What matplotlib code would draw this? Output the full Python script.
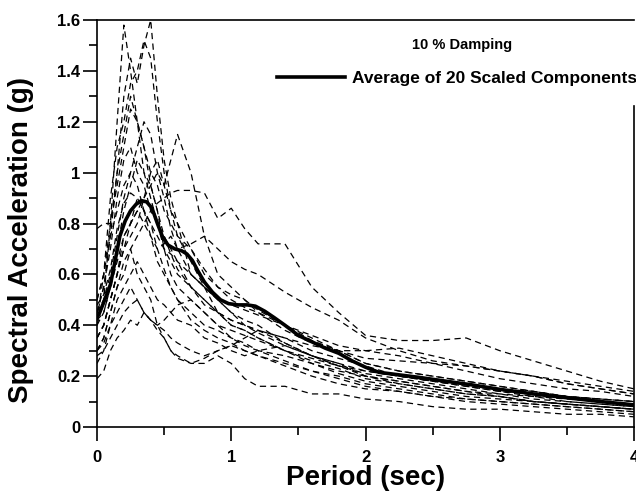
import matplotlib
matplotlib.use("Agg")
import matplotlib.pyplot as plt
from matplotlib.ticker import MultipleLocator

plt.rcParams['font.family'] = ['Liberation Sans', 'DejaVu Sans']

period = [0, 0.05, 0.1, 0.15, 0.2, 0.25, 0.3, 0.35, 0.4, 0.45, 0.5, 0.55, 0.6, 0.7, 0.8, 0.9,
          1.0, 1.1, 1.2, 1.4, 1.6, 1.8, 2.0, 2.25, 2.5, 2.75, 3.0, 3.25, 3.5, 3.75, 4.0]

c01 = [0.45, 0.55, 0.75, 1.00, 1.30, 1.45, 1.35, 1.50, 1.60, 1.30, 1.05, 0.90, 0.80, 0.60, 0.55, 0.50, 0.45, 0.42, 0.40, 0.33, 0.28, 0.24, 0.20, 0.17, 0.15, 0.13, 0.12, 0.10, 0.09, 0.08, 0.07]
c02 = [0.40, 0.50, 0.80, 1.20, 1.58, 1.40, 1.20, 1.00, 0.95, 0.85, 0.70, 0.60, 0.55, 0.50, 0.45, 0.40, 0.35, 0.32, 0.30, 0.26, 0.22, 0.20, 0.17, 0.15, 0.13, 0.11, 0.10, 0.09, 0.08, 0.07, 0.06]
c03 = [0.42, 0.60, 0.90, 1.10, 1.20, 1.35, 1.40, 1.52, 1.45, 1.20, 1.00, 0.85, 0.75, 0.65, 0.55, 0.45, 0.40, 0.38, 0.35, 0.30, 0.26, 0.23, 0.19, 0.17, 0.15, 0.13, 0.12, 0.10, 0.09, 0.08, 0.07]
c04 = [0.35, 0.40, 0.50, 0.60, 0.75, 0.80, 0.85, 0.90, 0.95, 1.00, 0.95, 1.05, 1.15, 1.00, 0.75, 0.60, 0.55, 0.50, 0.45, 0.38, 0.33, 0.30, 0.25, 0.22, 0.20, 0.18, 0.16, 0.14, 0.12, 0.11, 0.10]
c05 = [0.30, 0.35, 0.45, 0.55, 0.60, 0.70, 0.75, 0.80, 0.85, 0.88, 0.90, 0.92, 0.93, 0.93, 0.92, 0.82, 0.86, 0.78, 0.72, 0.72, 0.55, 0.45, 0.36, 0.34, 0.34, 0.35, 0.30, 0.26, 0.22, 0.18, 0.15]
c06 = [0.78, 0.80, 0.80, 0.95, 1.10, 1.25, 1.20, 1.10, 1.00, 0.95, 0.85, 0.80, 0.75, 0.70, 0.62, 0.55, 0.50, 0.47, 0.45, 0.40, 0.35, 0.30, 0.25, 0.22, 0.20, 0.18, 0.16, 0.14, 0.12, 0.11, 0.10]
c07 = [0.19, 0.22, 0.30, 0.35, 0.38, 0.42, 0.40, 0.45, 0.42, 0.38, 0.35, 0.30, 0.27, 0.25, 0.25, 0.28, 0.25, 0.19, 0.16, 0.16, 0.13, 0.13, 0.11, 0.10, 0.08, 0.07, 0.07, 0.06, 0.05, 0.05, 0.04]
c08 = [0.30, 0.35, 0.45, 0.55, 0.65, 0.70, 0.60, 0.55, 0.50, 0.40, 0.35, 0.30, 0.28, 0.25, 0.27, 0.30, 0.32, 0.30, 0.28, 0.25, 0.22, 0.19, 0.16, 0.14, 0.12, 0.10, 0.09, 0.08, 0.07, 0.06, 0.05]
c09 = [0.45, 0.55, 0.70, 0.90, 1.05, 1.10, 1.00, 0.95, 0.85, 0.80, 0.75, 0.70, 0.65, 0.55, 0.48, 0.45, 0.42, 0.40, 0.38, 0.35, 0.30, 0.27, 0.24, 0.20, 0.18, 0.16, 0.14, 0.12, 0.11, 0.10, 0.09]
c10 = [0.50, 0.60, 0.75, 0.85, 0.95, 1.00, 1.10, 1.20, 1.15, 1.00, 0.90, 0.78, 0.70, 0.60, 0.55, 0.50, 0.45, 0.40, 0.37, 0.32, 0.28, 0.25, 0.22, 0.20, 0.18, 0.16, 0.14, 0.13, 0.12, 0.10, 0.09]
c11 = [0.25, 0.30, 0.40, 0.50, 0.55, 0.60, 0.65, 0.60, 0.55, 0.50, 0.48, 0.45, 0.42, 0.40, 0.35, 0.33, 0.30, 0.28, 0.30, 0.32, 0.28, 0.25, 0.20, 0.18, 0.16, 0.14, 0.12, 0.10, 0.09, 0.08, 0.07]
c12 = [0.40, 0.45, 0.55, 0.65, 0.75, 0.80, 0.85, 0.80, 0.75, 0.70, 0.72, 0.75, 0.70, 0.72, 0.75, 0.70, 0.65, 0.62, 0.60, 0.53, 0.47, 0.42, 0.35, 0.30, 0.26, 0.24, 0.22, 0.20, 0.17, 0.15, 0.13]
c13 = [0.35, 0.40, 0.50, 0.60, 0.70, 0.80, 0.90, 0.85, 0.75, 0.65, 0.60, 0.55, 0.50, 0.45, 0.40, 0.38, 0.35, 0.33, 0.30, 0.28, 0.25, 0.22, 0.20, 0.18, 0.16, 0.14, 0.13, 0.12, 0.10, 0.09, 0.08]
c14 = [0.45, 0.50, 0.60, 0.75, 0.90, 1.00, 0.95, 0.85, 0.80, 0.75, 0.70, 0.68, 0.65, 0.60, 0.55, 0.50, 0.48, 0.46, 0.44, 0.40, 0.36, 0.32, 0.30, 0.28, 0.25, 0.22, 0.19, 0.17, 0.15, 0.14, 0.12]
c15 = [0.28, 0.30, 0.35, 0.40, 0.45, 0.48, 0.50, 0.45, 0.42, 0.40, 0.38, 0.35, 0.33, 0.30, 0.28, 0.30, 0.32, 0.35, 0.38, 0.35, 0.32, 0.30, 0.30, 0.31, 0.28, 0.25, 0.22, 0.20, 0.18, 0.16, 0.14]
c16 = [0.50, 0.60, 0.80, 1.00, 1.15, 1.30, 1.20, 1.10, 0.95, 0.85, 0.75, 0.68, 0.62, 0.55, 0.50, 0.45, 0.42, 0.40, 0.38, 0.33, 0.28, 0.24, 0.21, 0.19, 0.17, 0.15, 0.13, 0.11, 0.10, 0.09, 0.08]
c17 = [0.42, 0.45, 0.55, 0.70, 0.85, 0.95, 1.05, 1.00, 0.90, 0.80, 0.70, 0.65, 0.60, 0.55, 0.50, 0.45, 0.40, 0.38, 0.35, 0.30, 0.27, 0.24, 0.22, 0.20, 0.18, 0.17, 0.15, 0.14, 0.12, 0.11, 0.10]
c18 = [0.30, 0.33, 0.40, 0.45, 0.50, 0.55, 0.50, 0.45, 0.42, 0.40, 0.42, 0.45, 0.48, 0.50, 0.45, 0.40, 0.38, 0.36, 0.34, 0.30, 0.25, 0.21, 0.18, 0.16, 0.14, 0.12, 0.11, 0.10, 0.09, 0.08, 0.07]
c19 = [0.35, 0.40, 0.50, 0.60, 0.70, 0.75, 0.80, 0.90, 1.00, 1.05, 0.95, 0.85, 0.80, 0.70, 0.60, 0.55, 0.52, 0.50, 0.46, 0.40, 0.34, 0.30, 0.27, 0.26, 0.25, 0.24, 0.22, 0.20, 0.17, 0.15, 0.13]
c20 = [0.48, 0.52, 0.62, 0.78, 0.88, 0.92, 0.90, 0.85, 0.80, 0.70, 0.62, 0.55, 0.50, 0.42, 0.38, 0.35, 0.33, 0.30, 0.28, 0.24, 0.20, 0.17, 0.15, 0.14, 0.12, 0.11, 0.10, 0.09, 0.08, 0.07, 0.06]
components = [c01, c02, c03, c04, c05, c06, c07, c08, c09, c10,
              c11, c12, c13, c14, c15, c16, c17, c18, c19, c20]

avg_period = [0, 0.02, 0.05, 0.1, 0.13, 0.17, 0.21, 0.25, 0.29, 0.33, 0.37, 0.41, 0.45, 0.49,
              0.53, 0.58, 0.63, 0.67, 0.71, 0.75, 0.8, 0.86, 0.92, 0.98, 1.05, 1.12, 1.18,
              1.25, 1.32, 1.4, 1.5, 1.6, 1.7, 1.8, 1.9, 2.0, 2.1, 2.25, 2.4, 2.6, 2.8, 3.0,
              3.25, 3.5, 3.75, 4.0]
avg_sa = [0.43, 0.45, 0.49, 0.56, 0.64, 0.75, 0.81, 0.85, 0.875, 0.89, 0.885, 0.86, 0.80, 0.745,
          0.715, 0.70, 0.693, 0.68, 0.655, 0.615, 0.57, 0.53, 0.50, 0.485, 0.48, 0.48, 0.475,
          0.455, 0.43, 0.40, 0.36, 0.335, 0.31, 0.29, 0.26, 0.235, 0.215, 0.205, 0.195, 0.18,
          0.165, 0.148, 0.13, 0.115, 0.10, 0.087]

x_ticks = [0, 1, 2, 3, 4]
x_ticklabels = ['0', '1', '2', '3', '4']
y_ticks = [0, 0.2, 0.4, 0.6, 0.8, 1.0, 1.2, 1.4, 1.6]
y_ticklabels = ['0', '0.2', '0.4', '0.6', '0.8', '1', '1.2', '1.4', '1.6']

fig = plt.figure(figsize=(6.36, 4.91), dpi=100)
ax = fig.add_axes([97/636, 1-427/491, 537/636, 407/491])

for c in components:
    ax.plot(period, c, color='black', lw=0.9, ls=(0, (5, 3.5)))
ax.plot(avg_period, avg_sa, color='black', lw=2.6, label='Average of 20 Scaled Components')

ax.set_xlim(0, 4)
ax.set_ylim(0, 1.6)
ax.set_xticks(x_ticks)
ax.set_xticklabels(x_ticklabels, fontsize=12, fontweight='bold')
ax.set_yticks(y_ticks)
ax.set_yticklabels(y_ticklabels, fontsize=12, fontweight='bold')
ax.xaxis.set_minor_locator(MultipleLocator(0.5))
ax.yaxis.set_minor_locator(MultipleLocator(0.1))
ax.tick_params(which='both', direction='out', width=1.2)
ax.tick_params(which='major', length=10)
ax.tick_params(which='minor', length=5.5)
ax.tick_params(axis='x', pad=6.5)
ax.tick_params(axis='y', pad=2)
for s in ax.spines.values():
    s.set_linewidth(1.2)
ax.spines['right'].set_bounds(0, 1.26)

ax.set_xlabel('Period (sec)', fontsize=20, fontweight='bold', labelpad=0)
ax.set_ylabel('Spectral Acceleration (g)', fontsize=20, fontweight='bold')
ax.yaxis.set_label_coords(-0.117, 0.46)

ax.text(0.68, 0.939, '10 % Damping', transform=ax.transAxes, fontsize=10.5,
        fontweight='bold', ha='center', va='center')
ax.legend(loc='center right', bbox_to_anchor=(1.006, 0.857), frameon=False,
          prop={'weight': 'bold', 'size': 12.5}, handlelength=3.9,
          handletextpad=0.4, borderpad=0, borderaxespad=0)

fig.savefig('out.png', dpi=100)
